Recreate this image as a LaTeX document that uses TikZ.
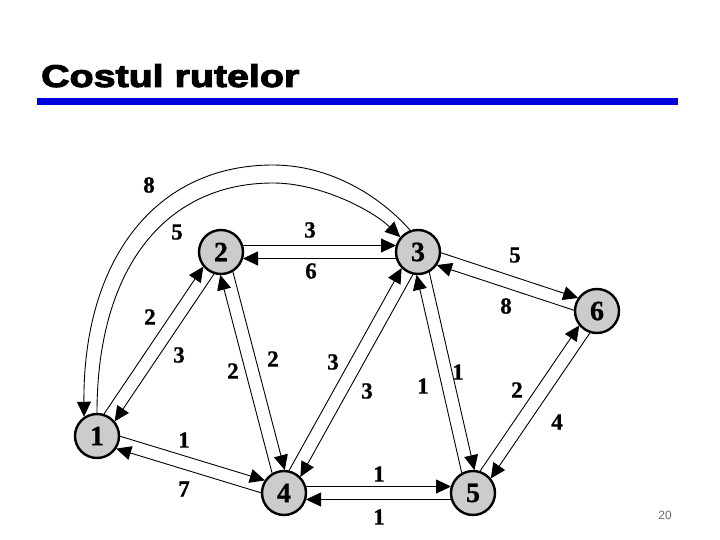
\documentclass[tikz,border=0pt]{standalone}
\usepackage{fontspec}
\setmainfont{Liberation Serif}
\newfontfamily\titlefont{Liberation Sans}
\newfontfamily\titlebold{Liberation Sans Bold}[FakeBold=3]
\newfontfamily\digitfont{Liberation Serif Bold}[FakeBold=0.8]
\usetikzlibrary{arrows.meta,calc}
\definecolor{nodegray}{RGB}{204,204,204}
\definecolor{barblue}{RGB}{0,0,220}
\definecolor{pagegray}{RGB}{110,110,110}
\newcommand\twoway[2]{%
  \draw[arr] ($(#1)!6.5pt!90:(#2)$) -- ($(#2)!6.5pt!-90:(#1)$);
  \draw[arr] ($(#2)!6.5pt!90:(#1)$) -- ($(#1)!6.5pt!-90:(#2)$);
}
\begin{document}
\begin{tikzpicture}[x=1pt,y=-1pt,
  vtx/.style={circle,draw,line width=2.4pt,fill=nodegray,minimum size=44pt,inner sep=0pt,
    font=\digitfont\fontsize{28}{28}\selectfont},
  lbl/.style={font=\digitfont\fontsize{23}{23}\selectfont,inner sep=0pt},
  tip/.style={-{Triangle[length=15pt,width=14pt]}},
  arr/.style={line width=0.9pt,shorten <=22pt,shorten >=22pt,tip},
  carr/.style={line width=0.9pt,tip}]
\fill[white] (0,0) rectangle (720,540);
\useasboundingbox (0,0) rectangle (720,540);
% title
\node[anchor=base west,inner sep=0pt] (title) at (41,87)
  {\scalebox{1.25}[1]{\titlebold\fontsize{31.5}{31.5}\selectfont Costul rutelor}};
\fill[barblue] (37,98) rectangle (678,105);
% vertices
\node[vtx] (n1) at (97,436) {1};
\node[vtx] (n2) at (221,252) {2};
\node[vtx] (n3) at (418,252) {3};
\node[vtx] (n4) at (284,493) {4};
\node[vtx] (n5) at (473,493) {5};
\node[vtx] (n6) at (597,311) {6};
% straight two-way links
\twoway{n1}{n2}
\twoway{n2}{n3}
\twoway{n4}{n2}
\twoway{n1}{n4}
\twoway{n4}{n5}
\twoway{n4}{n3}
\twoway{n5}{n3}
\twoway{n3}{n6}
\twoway{n5}{n6}
% curved links 1-3
\coordinate (otop) at (273,165);
\coordinate (itop) at (273,183);
\draw[carr] (n3.110) .. controls (380,196) and (330,165) .. (otop)
  .. controls (155,165) and (83,260) .. (n1.124);
\draw[carr] (n1.90) .. controls (97,270) and (164,183) .. (itop)
  .. controls (320,183) and (372,210) .. (n3.140);
% labels
\node[lbl] (l31) at (149,185) {8};
\node[lbl] (l13) at (177,232) {5};
\node[lbl] (l23) at (310,230) {3};
\node[lbl] (l32) at (311,271) {6};
\node[lbl] (l12) at (150,317) {2};
\node[lbl] (l21) at (179,355) {3};
\node[lbl] (l42) at (233,371) {2};
\node[lbl] (l24) at (273,359) {2};
\node[lbl] (l43) at (333,362) {3};
\node[lbl] (l34) at (367,391) {3};
\node[lbl] (l53) at (423,386) {1};
\node[lbl] (l35) at (458,372) {1};
\node[lbl] (l36) at (515,255) {5};
\node[lbl] (l63) at (506,306) {8};
\node[lbl] (l56) at (517,390) {2};
\node[lbl] (l65) at (557,422) {4};
\node[lbl] (l14) at (184,440) {1};
\node[lbl] (l41) at (184,489) {7};
\node[lbl] (l45) at (379,474) {1};
\node[lbl] (l54) at (379,517) {1};
% page number
\node[text=pagegray,font=\titlefont\fontsize{12}{12}\selectfont,inner sep=0pt] (page) at (665,515) {20};
\end{tikzpicture}
\end{document}
